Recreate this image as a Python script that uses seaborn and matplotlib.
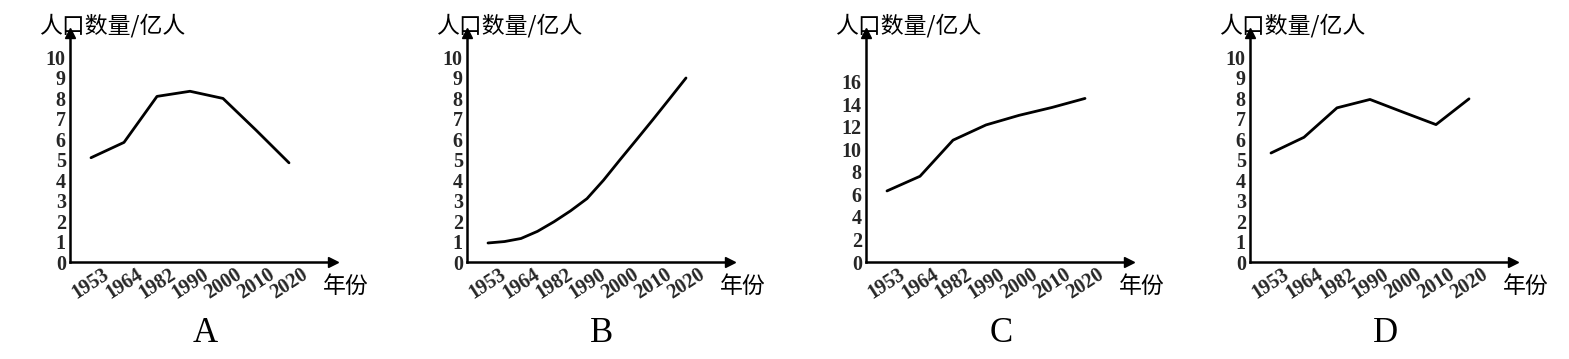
import matplotlib
matplotlib.use("Agg")
import matplotlib.pyplot as plt
import seaborn as sns
import numpy as np

# ---- data ----
years = ["1953", "1964", "1982", "1990", "2000", "2010", "2020"]
vals_A = [5.1, 5.85, 8.1, 8.35, 8.0, 6.45, 4.85]
# B is a smooth curve: values read at each year and half-way between
pos_B = [0, 0.5, 1, 1.5, 2, 2.5, 3, 3.5, 4, 4.5, 5, 5.5, 6]
vals_B = [0.93, 1.0, 1.15, 1.5, 1.97, 2.5, 3.1, 4.0, 5.0, 5.98, 6.97, 7.98, 9.0]
vals_C = [6.3, 7.6, 10.8, 12.15, 13.0, 13.7, 14.5]
vals_D = [5.33, 6.1, 7.54, 7.95, 7.33, 6.72, 7.98]
yticks_A = list(range(0, 11))
yticks_C = list(range(0, 17, 2))
panel_labels = ["A", "B", "C", "D"]
ylabel_text = "人口数量/亿人"
xlabel_text = "年份"

sns.set_style("white")
plt.rcParams['font.family'] = ['Noto Sans CJK SC', 'DejaVu Sans']

W, H = 1569, 359
fig = plt.figure(figsize=(W / 100, H / 100), dpi=100)

yaxis_x = [70, 467, 866, 1250]
x_axis_y = 262
arrow_top = 33
axis_w = 263
first_off = 21
spacing = 33

panels = [
    (list(range(7)), vals_A, yticks_A, 11.2),
    (pos_B, vals_B, yticks_A, 11.2),
    (list(range(7)), vals_C, yticks_C, 20.3),
    (list(range(7)), vals_D, yticks_A, 11.2),
]

xnum_font = dict(family='Liberation Serif', weight='bold', size=14.5)
ynum_font = dict(family='Liberation Serif', weight='bold', size=14.5)

for i, (xs, ys, yt, ytop) in enumerate(panels):
    left = yaxis_x[i] / W
    bottom = 1 - x_axis_y / H
    height = (x_axis_y - arrow_top) / H
    ax = fig.add_axes([left, bottom, axis_w / W, height])
    ax.set_facecolor('none')
    sns.lineplot(x=xs, y=ys, ax=ax, color='black', lw=2.0, sort=False)
    ax.set_xlim(-first_off / spacing, (axis_w - first_off) / spacing)
    ax.set_ylim(0, ytop)
    for s in ['top', 'right']:
        ax.spines[s].set_visible(False)
    for s in ['left', 'bottom']:
        ax.spines[s].set_color('black')
        ax.spines[s].set_linewidth(1.8)
    ax.plot(1, 0, '>', color='black', ms=7, transform=ax.transAxes, clip_on=False)
    ax.plot(0, 1, '^', color='black', ms=7, transform=ax.transAxes, clip_on=False)
    ax.set_xticks(range(7))
    ax.set_xticklabels(years, rotation=33, ha='center', fontdict=xnum_font)
    ax.set_yticks(yt)
    ax.set_yticklabels([str(v) for v in yt], fontdict=ynum_font)
    ax.tick_params(axis='x', direction='in', length=5, width=1.5, color='black', pad=2)
    ax.tick_params(axis='y', direction='in', length=4, width=1.5, color='black', pad=3)
    ax.grid(False)
    # y-axis title
    fig.text((yaxis_x[i] - 31) / W, 1 - 26 / H, ylabel_text, ha='left', va='center',
             fontsize=16.5, color='black')
    # x-axis title
    fig.text((yaxis_x[i] + 253) / W, 1 - 286 / H, xlabel_text, ha='left', va='center',
             fontsize=16.5, color='black')
    # panel letter
    fig.text((yaxis_x[i] + 135) / W, 1 - 333 / H, panel_labels[i], ha='center', va='center',
             fontsize=25, family='Liberation Serif', color='black')

fig.savefig("out.png", dpi=100, facecolor='white')
